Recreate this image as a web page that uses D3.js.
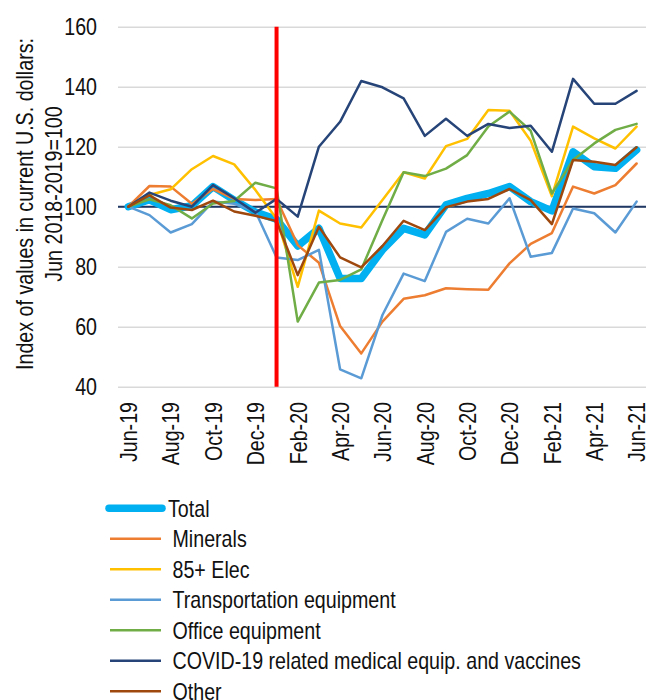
<!DOCTYPE html>
<html>
<head>
<meta charset="utf-8">
<script src="https://cdn.jsdelivr.net/npm/d3@7"></script>
<style>
  body { margin: 0; background: #fff; }
  text { font-family: "Liberation Sans", Arial, sans-serif; fill: #111; }
</style>
</head>
<body>
<div class="chart"></div>
<script>
// months on the category axis
const months = ["Jun-19","Jul-19","Aug-19","Sep-19","Oct-19","Nov-19","Dec-19",
  "Jan-20","Feb-20","Mar-20","Apr-20","May-20","Jun-20","Jul-20","Aug-20","Sep-20","Oct-20","Nov-20","Dec-20",
  "Jan-21","Feb-21","Mar-21","Apr-21","May-21","Jun-21"];
const monthTicks = months.filter((m, i) => i % 2 === 0);
const yTicks = [40, 60, 80, 100, 120, 140, 160];
const covidStart = "Jan-20";

const total     = [100, 102.3, 99, 100.3, 106.7, 102.2, 98.2, 95.8, 86.9, 92.8, 76.1, 76.1, 85.6, 92.8, 90.6, 100.6, 102.8, 104.4, 106.7, 101.7, 98.6, 118.3, 113.3, 112.8, 118.9];
const minerals  = [100, 106.9, 106.7, 101, 105.9, 102.6, 102.2, 102.6, 87.2, 81.3, 60.2, 51.1, 61.7, 69.3, 70.5, 72.8, 72.5, 72.3, 81.1, 87.6, 91.2, 106.7, 104.4, 107.2, 114.4];
const elec85    = [100, 103.9, 105.8, 112.5, 116.9, 114.1, 105.6, 96, 73.3, 98.7, 94.4, 93.1, 102.2, 111.5, 109.4, 120.2, 122.6, 132.2, 132, 122, 103.5, 126.7, 122.8, 119.4, 126.7];
const transport = [100, 97.2, 91.4, 94.2, 101.7, 101, 98.5, 83.1, 82.2, 85.6, 45.8, 42.8, 63.9, 77.7, 75.2, 91.6, 96, 94.4, 102.8, 83.3, 84.6, 99.4, 97.8, 91.4, 101.7];
const office    = [100, 102.5, 100.5, 96.1, 101.1, 101.9, 108, 106.1, 61.7, 74.7, 75.6, 79.1, 95.6, 111.5, 110.2, 112.7, 117.2, 126.7, 131.7, 125.3, 104.4, 115.6, 121.1, 125.6, 127.6];
const covid     = [100, 104.7, 102, 100, 107.2, 102.8, 98, 102.6, 96.7, 120, 128.3, 141.9, 139.8, 136.1, 123.6, 129.3, 123.6, 127.6, 126.2, 127, 118.3, 142.6, 134.3, 134.3, 138.6];
const other     = [100, 103.8, 99.7, 98.9, 102, 98.4, 97, 95.2, 77.2, 93.3, 83.1, 79.8, 86.9, 95.3, 92.2, 99.8, 101.7, 102.6, 105.9, 102.2, 94.2, 115.6, 115, 113.9, 119.8];

const series = [
  { name: "Total", values: total, color: "#00b0f0", width: 7.5 },
  { name: "Minerals", values: minerals, color: "#ed7d31", width: 2.5 },
  { name: "85+ Elec", values: elec85, color: "#ffc000", width: 2.5 },
  { name: "Transportation equipment", values: transport, color: "#5b9bd5", width: 2.5 },
  { name: "Office equipment", values: office, color: "#70ad47", width: 2.5 },
  { name: "COVID-19 related medical equip. and vaccines", values: covid, color: "#264478", width: 2.5 },
  { name: "Other", values: other, color: "#9e480e", width: 2.5 }
];

const width = 646, height = 700;
const squeeze = "scale(0.855,1)"; // text in the original is a narrow face

const svg = d3.select(".chart").append("svg")
  .attr("width", width)
  .attr("height", height);

const x = d3.scalePoint().domain(months).range([128.3, 636.6]);
const y = d3.scaleLinear().domain([40, 160]).range([386.7, 26.7]);

// gridlines
const grid = svg.append("g")
  .attr("transform", "translate(118,0)")
  .call(d3.axisLeft(y).tickValues(yTicks).tickSize(-530).tickFormat(""));
grid.select(".domain").remove();
grid.selectAll("line").attr("stroke", "#d9d9d9").attr("stroke-width", 1.5);

// y labels
const yAxis = svg.append("g")
  .attr("transform", "translate(97,0)")
  .call(d3.axisLeft(y).tickValues(yTicks).tickSize(0).tickPadding(0));
yAxis.select(".domain").remove();
yAxis.selectAll("text")
  .attr("x", 0)
  .attr("dy", "0.36em")
  .attr("transform", squeeze)
  .style("font-size", "23px")
  .style("font-family", '"Liberation Sans", Arial, sans-serif')
  .attr("fill", "#111");

// axis line crossing at 100
svg.append("line")
  .attr("x1", 118).attr("x2", width)
  .attr("y1", y(100)).attr("y2", y(100))
  .attr("stroke", "#1f3864")
  .attr("stroke-width", 2);

// x labels
const xAxis = svg.append("g")
  .attr("transform", "translate(0,402)")
  .call(d3.axisBottom(x).tickValues(monthTicks).tickSize(0).tickPadding(0));
xAxis.select(".domain").remove();
xAxis.selectAll("text")
  .attr("x", 0)
  .attr("y", 0)
  .attr("dy", "0.36em")
  .attr("transform", "rotate(-90) " + squeeze)
  .style("text-anchor", "end")
  .style("font-size", "23px")
  .style("font-family", '"Liberation Sans", Arial, sans-serif')
  .attr("fill", "#111");

// lines
const line = d3.line()
  .x((d, i) => x(months[i]))
  .y(d => y(d));

svg.append("g").selectAll("path")
  .data(series)
  .enter().append("path")
  .attr("d", d => line(d.values))
  .attr("fill", "none")
  .attr("stroke", d => d.color)
  .attr("stroke-width", d => d.width)
  .attr("stroke-linejoin", "round")
  .attr("stroke-linecap", "round");

// covid marker
svg.append("line")
  .attr("x1", x(covidStart)).attr("x2", x(covidStart))
  .attr("y1", y(160)).attr("y2", y(40))
  .attr("stroke", "#ff0000")
  .attr("stroke-width", 4);

// y title
const yTitle = [
  { text: "Index of values in current U.S. dollars:", x: 33, y: 204 },
  { text: "Jun 2018-2019=100", x: 62, y: 194 }
];
svg.selectAll(".ytitle")
  .data(yTitle)
  .enter().append("text")
  .attr("class", "ytitle")
  .attr("transform", d => "translate(" + d.x + "," + d.y + ") rotate(-90) " + squeeze)
  .attr("text-anchor", "middle")
  .style("font-size", "23px")
  .text(d => d.text);

// legend
const legend = svg.append("g").selectAll("g")
  .data(series)
  .enter().append("g")
  .attr("transform", (d, i) => "translate(0," + (508.3 + i * 30.5) + ")");

legend.append("line")
  .attr("x1", (d, i) => i === 0 ? 109 : 110)
  .attr("x2", (d, i) => i === 0 ? 162 : 161)
  .attr("stroke", d => d.color)
  .attr("stroke-width", d => d.width)
  .attr("stroke-linecap", (d, i) => i === 0 ? "round" : "butt");

legend.append("text")
  .attr("transform", (d, i) => "translate(" + (i === 0 ? 168 : 172.5) + ",8.4) " + squeeze)
  .style("font-size", "23px")
  .text(d => d.name);
</script>
</body>
</html>
